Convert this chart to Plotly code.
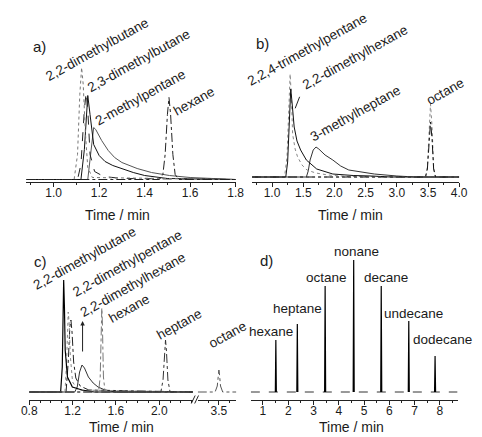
import plotly.graph_objects as go

W, H = 482, 437

# ---------------- data ----------------
# panel a) retention time (min) / detector signal (arb.)
a_22dmb_t = [0.88, 1.09, 1.105, 1.115, 1.123, 1.13, 1.14, 1.15, 1.17, 1.80]
a_22dmb_y = [0, 0, 25, 85, 112, 95, 45, 12, 2, 0]
a_dash_t = [0.88, 1.105, 1.12, 1.135, 1.143, 1.15, 1.16, 1.18, 1.22, 1.30, 1.80]
a_dash_y = [0, 0, 15, 70, 87, 70, 25, 8, 3, 1, 0]
a_23dmb_t = [0.88, 1.12, 1.135, 1.145, 1.150, 1.16, 1.176, 1.20, 1.226, 1.26, 1.297, 1.35, 1.40, 1.50, 1.80]
a_23dmb_y = [0, 0, 30, 75, 84, 65, 35, 24, 18, 14, 11, 7, 4, 1, 0]
a_2mp_t = [0.88, 1.15, 1.16, 1.17, 1.176, 1.185, 1.20, 1.211, 1.24, 1.268, 1.30, 1.367, 1.43, 1.509, 1.60, 1.70, 1.80]
a_2mp_y = [0, 0, 20, 45, 52, 50, 43, 39, 29, 22, 17, 11, 7, 4, 2, 1, 0]
a_hex_t = [0.88, 1.465, 1.48, 1.49, 1.50, 1.507, 1.514, 1.524, 1.534, 1.55, 1.80]
a_hex_y = [0, 0, 5, 25, 65, 82, 65, 25, 5, 0, 0]

# panel b)
b_224_t = [0.68, 1.20, 1.24, 1.27, 1.29, 1.31, 1.33, 1.37, 1.41, 1.48, 1.56, 1.70, 1.90, 2.2, 4.0]
b_224_y = [0, 0, 20, 80, 103, 80, 43, 28, 20, 12, 7, 4, 2, 0.5, 0]
b_22dmh_t = [0.68, 1.22, 1.25, 1.28, 1.30, 1.32, 1.355, 1.40, 1.458, 1.55, 1.716, 1.974, 2.3, 2.6, 2.9, 4.0]
b_22dmh_y = [0, 0, 15, 70, 88, 75, 50, 36, 27, 17, 8, 3, 1.5, 1, 0, 0]
b_3mh_t = [0.68, 1.55, 1.58, 1.61, 1.66, 1.705, 1.75, 1.85, 1.974, 2.10, 2.23, 2.45, 2.64, 3.0, 3.3, 4.0]
b_3mh_y = [0, 0, 6, 17, 27, 30, 28, 22, 17, 11, 7, 4.5, 3, 1, 0, 0]
b_oct_t = [0.68, 3.46, 3.49, 3.515, 3.54, 3.565, 3.59, 3.62, 4.0]
b_oct1_y = [0, 0, 10, 50, 73, 50, 10, 0, 0]
b_oct2_y = [0, 0, 8, 38, 55, 38, 8, 0, 0]

# panel c) (broken time axis)
c_22dmb_t = [0.8, 1.09, 1.105, 1.112, 1.118, 1.125, 1.132, 1.153, 1.198, 1.287, 1.4, 2.311]
c_22dmb_y = [0, 0, 25, 80, 112, 85, 42, 15, 5, 2, 0, 0]
c_22dmp_t = [0.8, 1.13, 1.145, 1.155, 1.16, 1.168, 1.18, 1.20, 1.25, 2.311]
c_22dmp_y = [0, 0, 30, 72, 80, 70, 35, 10, 2, 0]
c_dd_t = [0.8, 1.14, 1.16, 1.175, 1.185, 1.195, 1.21, 1.23, 1.27, 1.35, 2.311]
c_dd_y = [0, 0, 30, 65, 72, 60, 30, 14, 6, 2, 0]
c_22dmh_t = [0.8, 1.22, 1.243, 1.265, 1.287, 1.31, 1.346, 1.39, 1.435, 1.50, 1.60, 2.311]
c_22dmh_y = [0, 0, 5, 20, 27, 24, 15, 9, 5, 2, 0, 0]
c_hex_t = [0.8, 1.44, 1.455, 1.465, 1.47, 1.475, 1.485, 1.50, 2.311]
c_hex_y = [0, 0, 15, 70, 84, 70, 15, 0, 0]
c_hep_t = [0.8, 2.015, 2.035, 2.05, 2.058, 2.066, 2.08, 2.10, 2.311]
c_hep_y = [0, 0, 12, 42, 52, 42, 12, 0, 0]
c_oct_t = [3.305, 3.465, 3.485, 3.495, 3.50, 3.505, 3.515, 3.535, 3.661]
c_oct_y = [0, 0, 6, 18, 22, 18, 6, 0, 0]

# panel d) n-alkanes
d_names = ["hexane", "heptane", "octane", "nonane", "decane", "undecane", "dodecane"]
d_rt = [1.51, 2.36, 3.46, 4.59, 5.68, 6.77, 7.81]
d_height = [52, 68, 106, 132, 106, 71, 36]
d_half_width = 0.02

# tick labels
a_ticks = [1.0, 1.2, 1.4, 1.6, 1.8]
b_ticks = [1.0, 1.5, 2.0, 2.5, 3.0, 3.5, 4.0]
c_ticks = [0.8, 1.2, 1.6, 2.0]
c2_ticks = [3.5]
d_ticks = [1, 2, 3, 4, 5, 6, 7, 8]

# ---------------- helpers ----------------
FONT = "Liberation Sans, Arial, sans-serif"
TXT = "#1a1a1a"


def fx(p):
    return p / W


def fy(p):
    return 1 - p / H


fig = go.Figure()


def line(x, y, xa, ya, color, dash, width=1.0):
    fig.add_trace(go.Scatter(x=x, y=y, xaxis=xa, yaxis=ya, mode="lines",
                             line=dict(color=color, dash=dash, width=width),
                             showlegend=False, hoverinfo="skip"))


# a)
line(a_2mp_t, a_2mp_y, "x", "y", "#555555", "solid")
line(a_23dmb_t, a_23dmb_y, "x", "y", "#111111", "solid")
line(a_dash_t, a_dash_y, "x", "y", "#222222", "dash")
line(a_22dmb_t, a_22dmb_y, "x", "y", "#777777", "dot")
line(a_hex_t, a_hex_y, "x", "y", "#222222", "dashdot")

# b)
line(b_3mh_t, b_3mh_y, "x2", "y2", "#333333", "solid")
line(b_224_t, b_224_y, "x2", "y2", "#888888", "dot")
line(b_22dmh_t, b_22dmh_y, "x2", "y2", "#111111", "solid")
line(b_oct_t, b_oct1_y, "x2", "y2", "#888888", "dot")
line(b_oct_t, b_oct2_y, "x2", "y2", "#111111", "dashdot")

# c)
line(c_22dmh_t, c_22dmh_y, "x3", "y3", "#333333", "solid")
line(c_dd_t, c_dd_y, "x3", "y3", "#222222", "dashdot")
line(c_22dmp_t, c_22dmp_y, "x3", "y3", "#888888", "dot")
line(c_22dmb_t, c_22dmb_y, "x3", "y3", "#000000", "solid", 1.2)
line(c_hex_t, c_hex_y, "x3", "y3", "#777777", "dashdot")
line(c_hep_t, c_hep_y, "x3", "y3", "#333333", "dashdot")
line(c_oct_t, c_oct_y, "x4", "y3", "#555555", "dashdot")

# d)
d_x, d_y = [], []
for rt, h in zip(d_rt, d_height):
    d_x += [rt - d_half_width, rt, rt + d_half_width, None]
    d_y += [0, h, 0, None]
line([0.52, 8.7], [0, 0], "x5", "y5", "#333333", "dash")
line(d_x, d_y, "x5", "y5", "#000000", "solid", 1.2)

# ---------------- axes ----------------
def xax(dom_px, rng, tickvals, anchor, minor_dtick, fmt=".1f"):
    return dict(domain=[fx(dom_px[0]), fx(dom_px[1])], range=rng, anchor=anchor,
                showline=True, linecolor="#222", linewidth=1,
                ticks="outside", ticklen=4, tickwidth=1, tickcolor="#222",
                tickmode="array", tickvals=tickvals, tickformat=fmt,
                ticklabelstandoff=-4,
                tickfont=dict(family=FONT, size=12, color=TXT),
                minor=dict(dtick=minor_dtick, ticks="outside", ticklen=2,
                           tickcolor="#222", showgrid=False),
                showgrid=False, zeroline=False, fixedrange=True)


def yax(dom_px, rng, anchor):
    return dict(domain=[fy(dom_px[0]), fy(dom_px[1])], range=rng, anchor=anchor,
                visible=False, fixedrange=True)


fig.update_layout(
    xaxis=xax((19, 236), [0.88, 1.80], a_ticks, "y", 0.1),
    yaxis=yax((181.5, 10), [-2, 169.5], "x"),
    xaxis2=xax((253, 467.7), [0.68, 4.0], b_ticks, "y2", 0.25),
    yaxis2=yax((181.5, 10), [-4.5, 167], "x2"),
    xaxis3=xax((22, 191.7), [0.8, 2.311], c_ticks, "y3", 0.1),
    xaxis4=xax((196.7, 236.7), [3.305, 3.661], c2_ticks, "y3", 0.1),
    yaxis3=yax((399.5, 225), [-7.5, 167], "x3"),
    xaxis5=xax((251.7, 466), [0.52, 8.7], d_ticks, "y5", 0.5, fmt="d"),
    yaxis5=yax((399.5, 225), [-7.5, 167], "x5"),
)

# ---------------- text ----------------
ann = []


def label(text, x, y, angle=0, size=13.5):
    ann.append(dict(text=text, x=fx(x), y=fy(y), xref="paper", yref="paper",
                    showarrow=False, textangle=angle, xanchor="center", yanchor="middle",
                    font=dict(family=FONT, size=size, color=TXT)))


ANG = -29
label("a)", 33, 47, size=15)
label("2,2-dimethylbutane", 92.3, 50, ANG)
label("2,3-dimethylbutane", 135.7, 60, ANG)
label("2-methylpentane", 137.3, 97.3, ANG)
label("hexane", 192.3, 101.7, ANG)

label("b)", 264.3, 43.3, size=15)
label("2,2,4-trimethylpentane", 310, 49.3, ANG)
label("2,2-dimethylhexane", 359.3, 57, ANG)
label("3-methylheptane", 360, 113.3, ANG)
label("octane", 453.3, 91.7, ANG)

label("c)", 33.3, 261.3, size=15)
label("2,2-dimethylbutane", 79, 258, ANG)
label("2,2-dimethylpentane", 123.3, 263, ANG)
label("2,2-dimethylhexane", 130, 284.7, ANG)
label("hexane", 125.7, 308.7, ANG)
label("heptane", 177.3, 324.7, ANG)
label("octane", 228, 334, ANG)

label("d)", 267.7, 260.7, size=15)
d_label_px = [(273, 331.3), (300.5, 308.7), (330, 277.3), (361.2, 251.3),
              (391.8, 277.3), (420, 313), (450.3, 339.7)]
for name, (px_, py_) in zip(d_names, d_label_px):
    label(name, px_, py_)

for (tx, ty) in [(114, 215), (355, 215), (118, 427), (356, 427)]:
    label("Time / min", tx, ty, size=14)

# pointer lines
ann.append(dict(text="", x=fx(297.7), y=fy(108.3), xref="paper", yref="paper",
                ax=5, ay=-13, showarrow=True, arrowhead=0, arrowwidth=1, arrowcolor="#222"))
ann.append(dict(text="", x=fx(77.3), y=fy(321), xref="paper", yref="paper",
                ax=0, ay=32, showarrow=True, arrowhead=2, arrowsize=0.9,
                arrowwidth=1, arrowcolor="#222"))
fig.update_layout(annotations=ann)

# axis break marks in panel c
shapes = []
for dx in (0, 3.5):
    shapes.append(dict(type="line", xref="paper", yref="paper",
                       x0=fx(190 + dx), y0=fy(403.5), x1=fx(194 + dx), y1=fy(395.5),
                       line=dict(color="#222", width=1)))
fig.update_layout(shapes=shapes)

fig.update_layout(width=W, height=H, margin=dict(l=0, r=0, t=0, b=0),
                  paper_bgcolor="white", plot_bgcolor="white")

fig.write_html("out.html", config={"displayModeBar": False},
               post_script="document.body.style.margin='0px';")
